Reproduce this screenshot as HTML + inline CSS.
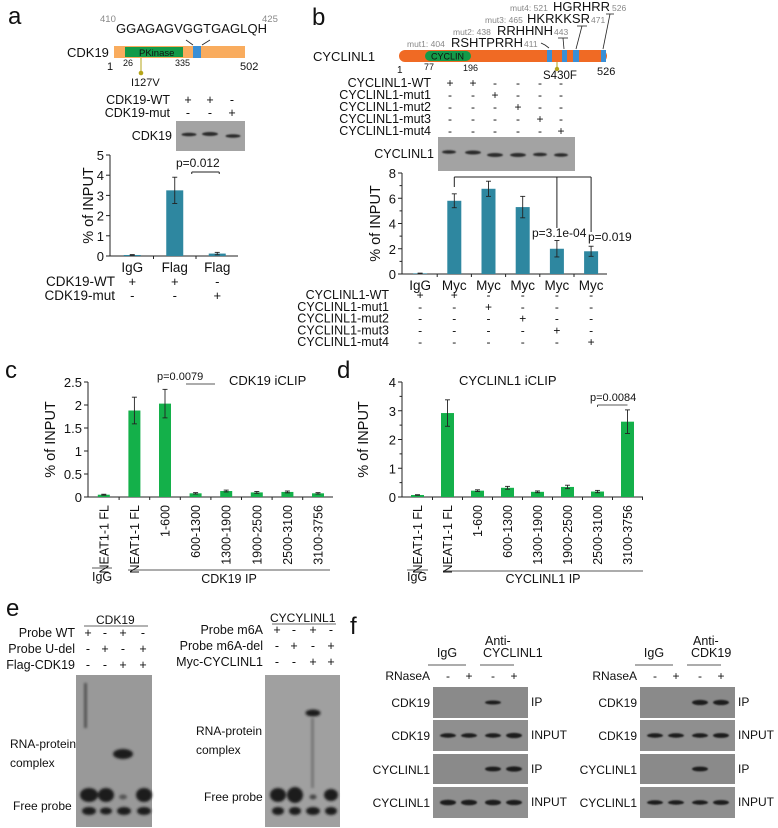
<!DOCTYPE html>
<html><head><meta charset="utf-8"><style>
html,body{margin:0;padding:0;background:#fff;}
svg{display:block;font-family:"Liberation Sans",sans-serif;}
text{fill:#111;}
.g{fill:#888;}
</style></head><body>
<svg id="fig" width="778" height="828" viewBox="0 0 778 828" xmlns="http://www.w3.org/2000/svg">
<defs>
<filter id="blur" x="-20%" y="-50%" width="140%" height="200%"><feGaussianBlur stdDeviation="0.8"/></filter>
<filter id="blur2" x="-20%" y="-50%" width="140%" height="200%"><feGaussianBlur stdDeviation="1.3"/></filter>
</defs>

<text x="8" y="24" font-size="24">a</text>
<text x="312" y="25" font-size="24">b</text>
<text x="5" y="378" font-size="24">c</text>
<text x="337" y="378" font-size="24">d</text>
<text x="6" y="616" font-size="24">e</text>
<text x="350" y="634" font-size="24">f</text>

<g>
<text class="g" x="100" y="22" font-size="9.5">410</text>
<text x="116" y="33" font-size="13" textLength="151">GGAGAGVGGTGAGLQH</text>
<text class="g" x="262" y="22" font-size="9.5">425</text>
<line x1="186" y1="40" x2="193" y2="45" stroke="#222" stroke-width="0.8"/>
<line x1="210" y1="40" x2="202" y2="45" stroke="#222" stroke-width="0.8"/>
<text x="67" y="57" font-size="13">CDK19</text>
<rect x="114" y="46" width="131" height="12" fill="#f9ac5e"/>
<rect x="125" y="47" width="58" height="10" fill="#139a48"/>
<text x="139" y="56" font-size="9.5">PKinase</text>
<rect x="193" y="46" width="8" height="12" fill="#3a8fd6"/>
<text x="107" y="70" font-size="11">1</text>
<text x="123" y="66" font-size="9">26</text>
<text x="175" y="66" font-size="9">335</text>
<text x="240" y="70" font-size="11">502</text>
<line x1="141" y1="58" x2="141" y2="73" stroke="#b5a51a" stroke-width="1"/>
<circle cx="141" cy="73" r="2.3" fill="#b5a51a"/>
<text x="131" y="86" font-size="11">I127V</text>
</g>
<g font-size="12.5">
<text x="170" y="104" text-anchor="end">CDK19-WT</text>
<text x="170" y="117" text-anchor="end">CDK19-mut</text>
<text x="188" y="104" text-anchor="middle">+</text><text x="210" y="104" text-anchor="middle">+</text><text x="232" y="104" text-anchor="middle">-</text>
<text x="188" y="117" text-anchor="middle">-</text><text x="210" y="117" text-anchor="middle">-</text><text x="232" y="117" text-anchor="middle">+</text>
</g>
<g>
<text x="172" y="140" text-anchor="end" font-size="12.5">CDK19</text>
<rect x="176" y="121" width="69" height="30" fill="#a3a3a3"/>
<g filter="url(#blur)" fill="#2a2a2a">
<ellipse cx="189" cy="134.5" rx="7.5" ry="1.8"/><ellipse cx="210" cy="134" rx="8" ry="2"/><ellipse cx="233" cy="136" rx="7.5" ry="1.8"/>
</g>
</g>

<g>
<text x="313" y="61" font-size="13">CYCLINL1</text>
<rect x="399" y="50" width="208" height="12" rx="6" fill="#f06a24"/>
<rect x="425" y="51" width="46" height="10" rx="5" fill="#139a48"/>
<text x="431" y="59.5" font-size="9">CYCLIN</text>
<rect x="547" y="50" width="5" height="12" fill="#3a8fd6"/>
<rect x="562" y="50" width="5" height="12" fill="#3a8fd6"/>
<rect x="573" y="50" width="6" height="12" fill="#3a8fd6"/>
<rect x="601" y="50" width="5" height="12" fill="#3a8fd6"/>
<text x="397" y="73" font-size="10">1</text>
<text x="424" y="70" font-size="9">77</text>
<text x="463" y="71" font-size="9">196</text>
<text x="543" y="79" font-size="11.5">S430F</text>
<text x="597" y="75" font-size="11">526</text>
<line x1="557" y1="62" x2="557" y2="69" stroke="#b5a51a"/>
<circle cx="557" cy="69" r="2.2" fill="#b5a51a"/>
<text class="g" x="407" y="47" font-size="8.5">mut1: 404</text><text x="451" y="47" font-size="13" textLength="72">RSHTPRRH</text><text class="g" x="524" y="47" font-size="8.5">411</text>
<text class="g" x="453" y="35" font-size="8.5">mut2: 438</text><text x="497" y="35" font-size="13" textLength="56">RRHHNH</text><text class="g" x="554" y="35" font-size="8.5">443</text>
<text class="g" x="485" y="23" font-size="8.5">mut3: 465</text><text x="527" y="23" font-size="13" textLength="63">HKRKKSR</text><text class="g" x="591" y="23" font-size="8.5">471</text>
<text class="g" x="510" y="11" font-size="8.5">mut4: 521</text><text x="553" y="11" font-size="13" textLength="57">HGRHRR</text><text class="g" x="612" y="11" font-size="8.5">526</text>
<g stroke="#222" stroke-width="0.8" fill="none">
<polyline points="541,43 545,45 549,48"/>
<line x1="558" y1="38" x2="568" y2="38"/><line x1="563" y1="38" x2="564" y2="49"/>
<line x1="577" y1="26" x2="587" y2="26"/><line x1="582" y1="26" x2="576" y2="49"/>
<line x1="606" y1="14" x2="614" y2="14"/><line x1="610" y1="14" x2="603" y2="49"/>
</g>
</g>
<g id="tableB"></g>
<g>
<text x="434" y="158" text-anchor="end" font-size="12.5">CYCLINL1</text>
<rect x="438" y="137" width="137" height="34" fill="#a3a3a3"/>
<g filter="url(#blur)" fill="#2a2a2a">
<ellipse cx="449" cy="152" rx="7" ry="1.8"/><ellipse cx="473" cy="152.5" rx="8" ry="2"/><ellipse cx="495" cy="155" rx="8" ry="2"/>
<ellipse cx="518" cy="155" rx="8" ry="2"/><ellipse cx="540" cy="154.5" rx="7" ry="1.8"/><ellipse cx="561" cy="155" rx="7" ry="1.8"/>
</g>
</g>

<g id="chartA"></g>
<g id="chartB"></g>
<g id="chartC"></g>
<g id="chartD"></g>

<g>
<text x="96" y="624" font-size="12">CDK19</text>
<line x1="84" y1="626" x2="148" y2="626" stroke="#333" stroke-width="0.8"/>
<g font-size="12.5">
<text x="75" y="637" text-anchor="end">Probe WT</text>
<text x="75" y="653" text-anchor="end">Probe U-del</text>
<text x="75" y="669" text-anchor="end">Flag-CDK19</text>
<text x="88" y="637" text-anchor="middle">+</text><text x="105" y="637" text-anchor="middle">-</text><text x="123" y="637" text-anchor="middle">+</text><text x="143" y="637" text-anchor="middle">-</text>
<text x="88" y="653" text-anchor="middle">-</text><text x="105" y="653" text-anchor="middle">+</text><text x="123" y="653" text-anchor="middle">-</text><text x="143" y="653" text-anchor="middle">+</text>
<text x="88" y="669" text-anchor="middle">-</text><text x="105" y="669" text-anchor="middle">-</text><text x="123" y="669" text-anchor="middle">+</text><text x="143" y="669" text-anchor="middle">+</text>
</g>
<rect x="76" y="675" width="76" height="152" fill="#999"/>
<g filter="url(#blur2)" fill="#1a1a1a">
<rect x="84" y="683" width="3" height="45" fill="#555"/>
<ellipse cx="123" cy="754" rx="10" ry="5"/>
<ellipse cx="89" cy="795" rx="9" ry="7"/><ellipse cx="106" cy="795" rx="8" ry="7"/><ellipse cx="123" cy="797" rx="4" ry="2.5" fill="#555"/><ellipse cx="144" cy="795" rx="8" ry="7"/>
<ellipse cx="89" cy="811" rx="7" ry="4"/><ellipse cx="106" cy="811" rx="6" ry="3.5"/><ellipse cx="124" cy="811" rx="7" ry="4"/><ellipse cx="144" cy="811" rx="7" ry="4"/>
</g>
<text x="10" y="748" font-size="12">RNA-protein</text>
<text x="10" y="767" font-size="12">complex</text>
<text x="13" y="810" font-size="12">Free probe</text>
</g>
<g>
<text x="270" y="622" font-size="12">CYCYLINL1</text>
<line x1="272" y1="624" x2="336" y2="624" stroke="#333" stroke-width="0.8"/>
<g font-size="12.5">
<text x="263" y="634" text-anchor="end">Probe m6A</text>
<text x="263" y="650" text-anchor="end">Probe m6A-del</text>
<text x="263" y="666" text-anchor="end">Myc-CYCLINL1</text>
<text x="277" y="634" text-anchor="middle">+</text><text x="294" y="634" text-anchor="middle">-</text><text x="313" y="634" text-anchor="middle">+</text><text x="331" y="634" text-anchor="middle">-</text>
<text x="277" y="650" text-anchor="middle">-</text><text x="294" y="650" text-anchor="middle">+</text><text x="313" y="650" text-anchor="middle">-</text><text x="331" y="650" text-anchor="middle">+</text>
<text x="277" y="666" text-anchor="middle">-</text><text x="294" y="666" text-anchor="middle">-</text><text x="313" y="666" text-anchor="middle">+</text><text x="331" y="666" text-anchor="middle">+</text>
</g>
<rect x="265" y="675" width="75" height="152" fill="#a0a0a0"/>
<g filter="url(#blur2)" fill="#1a1a1a">
<ellipse cx="313" cy="713" rx="7.5" ry="3.5"/>
<rect x="311" y="718" width="3" height="70" fill="#777"/>
<ellipse cx="278" cy="795" rx="8" ry="7"/><ellipse cx="295" cy="795" rx="8" ry="8"/><ellipse cx="313" cy="797" rx="3.5" ry="2.5" fill="#444"/><ellipse cx="331" cy="795" rx="7" ry="6"/>
<ellipse cx="278" cy="811" rx="6" ry="4"/><ellipse cx="295" cy="811" rx="6" ry="4"/><ellipse cx="313" cy="811" rx="7" ry="4"/><ellipse cx="331" cy="811" rx="6" ry="4"/>
</g>
<text x="196" y="735" font-size="12">RNA-protein</text>
<text x="196" y="754" font-size="12">complex</text>
<text x="204" y="801" font-size="12">Free probe</text>
</g>

<g id="coipL"></g>
<g id="coipR"></g>
</svg>
<script>
var NS = 'http://www.w3.org/2000/svg';
var catsA = ['IgG','Flag','Flag'];
var valsA = [0.05, 3.25, 0.12];
var errsA = [0.02, 0.65, 0.06];
var ticksA = [0,1,2,3,4,5];

var catsB = ['IgG','Myc','Myc','Myc','Myc','Myc'];
var valsB = [0.05, 5.8, 6.75, 5.3, 2.0, 1.8];
var errsB = [0.02, 0.55, 0.6, 0.85, 0.65, 0.4];
var ticksB = [0,2,4,6,8];

var catsC = ['NEAT1-1 FL','NEAT1-1 FL','1-600','600-1300','1300-1900','1900-2500','2500-3100','3100-3756'];
var valsC = [0.05, 1.88, 2.03, 0.08, 0.13, 0.1, 0.11, 0.08];
var errsC = [0.01, 0.29, 0.31, 0.015, 0.02, 0.02, 0.02, 0.015];
var ticksC = [0,0.5,1,1.5,2,2.5];

var catsD = ['NEAT1-1 FL','NEAT1-1 FL','1-600','600-1300','1300-1900','1900-2500','2500-3100','3100-3756'];
var valsD = [0.07, 2.92, 0.22, 0.32, 0.18, 0.35, 0.19, 2.62];
var errsD = [0.01, 0.46, 0.03, 0.05, 0.03, 0.06, 0.04, 0.41];
var ticksD = [0,1,2,3,4];

function mk(parent, tag, attrs, name) {
  var el = document.createElementNS(NS, tag);
  for (var k in attrs) el.setAttribute(k, attrs[k]);
  
  
  parent.appendChild(el);
  return el;
}
function txt(parent, x, y, s, size, anchor, name, extra) {
  var a = {x:x, y:y, 'font-size':size, 'text-anchor':anchor||'start'};
  if (extra) for (var k in extra) a[k] = extra[k];
  var t = mk(parent, 'text', a, name);
  t.textContent = s;
  return t;
}
function line(p, x1, y1, x2, y2, name, w) {
  return mk(p, 'line', {x1:x1, y1:y1, x2:x2, y2:y2, stroke:'#222', 'stroke-width':w||1}, name);
}

function barChart(g, o) {
  var y = function(v){ return o.y0 - v / o.vmax * (o.y0 - o.ytop); };
  var x = function(i){ return o.x0 + o.xstep * (i + 0.5); };
  line(g, o.axisX, o.ytop, o.axisX, o.y0, 'y-axis');
  line(g, o.axisX, o.y0, o.xend, o.y0, 'x-axis');
  o.ticks.forEach(function(t, i){
    line(g, o.axisX - 4, y(t), o.axisX, y(t), 'y-tick');
    txt(g, o.axisX - 6, y(t) + 5, String(t), o.tickFont, 'end', 'y-tick-label');
    if (o.minor && i < o.ticks.length - 1) {
      var m = (t + o.ticks[i+1]) / 2;
      line(g, o.axisX - 2.5, y(m), o.axisX, y(m), 'y-minor-tick');
    }
  });
  for (var i = 1; i <= o.cats.length; i++) {
    var xt = o.x0 + o.xstep * i;
    if (xt <= o.xend) line(g, xt, o.y0, xt, o.y0 + 3, 'x-tick');
  }
  o.vals.forEach(function(v, i){
    mk(g, 'rect', {x: x(i) - o.bw/2, y: y(v), width: o.bw, height: o.y0 - y(v), fill: o.color}, 'bar-' + i);
    var e = o.errs[i];
    line(g, x(i), y(v + e), x(i), y(Math.max(0, v - e)), 'error-bar', 0.9);
    line(g, x(i) - 2.5, y(v + e), x(i) + 2.5, y(v + e), 'error-cap', 0.9);
    line(g, x(i) - 2.5, y(Math.max(0, v - e)), x(i) + 2.5, y(Math.max(0, v - e)), 'error-cap', 0.9);
    if (o.rotLabels) {
      txt(g, 0, 0, o.cats[i], 12.5, 'end', 'x-label', {transform: 'translate(' + (x(i) + 4.5) + ',' + (o.y0 + 8) + ') rotate(-90)'});
    } else {
      txt(g, x(i), o.y0 + 16, o.cats[i], 13.5, 'middle', 'x-label');
    }
  });
  txt(g, 0, 0, '% of INPUT', 14.5, 'middle', 'y-axis-title', {transform: 'translate(' + o.ylabX + ',' + ((o.ytop + o.y0)/2) + ') rotate(-90)'});
  return {x:x, y:y};
}

var gA = document.getElementById('chartA');
var axA = barChart(gA, {cats:catsA, vals:valsA, errs:errsA, ticks:ticksA, vmax:5, y0:256, ytop:155, axisX:110, x0:111, xstep:42.5, xend:238, bw:17, color:'#2e87a0', tickFont:13, ylabX:93, minor:false});
line(gA, axA.x(1) + 17, 172, axA.x(2) + 2, 172, 'p-value-bracket');
line(gA, axA.x(1) + 17, 172, axA.x(1) + 17, 174, 'p-value-bracket');
line(gA, axA.x(2) + 2, 172, axA.x(2) + 2, 174, 'p-value-bracket');
txt(gA, 176, 167, 'p=0.012', 12, 'start', 'p-value-label');
var rowsA = [['CDK19-WT', ['+','+','-']], ['CDK19-mut', ['-','-','+']]];
rowsA.forEach(function(r, j){
  txt(gA, 115, 286 + j*14, r[0], 13.5, 'end', 'construct-row-label');
  r[1].forEach(function(s, i){ txt(gA, axA.x(i), 286 + j*14, s, 13, 'middle', 'construct-sign'); });
});

var gB = document.getElementById('chartB');
var axB = barChart(gB, {cats:catsB, vals:valsB, errs:errsB, ticks:ticksB, vmax:8, y0:274, ytop:173, axisX:402, x0:403, xstep:34.2, xend:607, bw:14, color:'#2e87a0', tickFont:13, ylabX:380, minor:true});
line(gB, axB.x(1), 177, axB.x(5), 177, 'significance-bracket');
line(gB, axB.x(1), 177, axB.x(1), 187, 'significance-bracket');
line(gB, axB.x(4), 177, axB.x(4), 228, 'significance-bracket');
line(gB, axB.x(5), 177, axB.x(5), 232, 'significance-bracket');
txt(gB, 532, 237, 'p=3.1e-04', 12, 'start', 'p-value-label');
txt(gB, 588, 241, 'p=0.019', 12, 'start', 'p-value-label');
var names = ['CYCLINL1-WT','CYCLINL1-mut1','CYCLINL1-mut2','CYCLINL1-mut3','CYCLINL1-mut4'];
names.forEach(function(n, j){
  txt(gB, 389, 299 + j*11.8, n, 12.5, 'end', 'construct-row-label');
  catsB.forEach(function(c, i){
    var s = (j === 0 ? (i === 0 || i === 1) : i === j + 1) ? '+' : '-';
    txt(gB, axB.x(i), 299 + j*11.8, s, 12, 'middle', 'construct-sign');
  });
});
var tB = document.getElementById('tableB');
var colsB = [450, 473, 495, 518, 540, 561];
names.forEach(function(n, j){
  txt(tB, 431, 87 + j*12, n, 12.5, 'end', 'construct-row-label');
  colsB.forEach(function(cx, i){
    var s = (j === 0 ? (i === 0 || i === 1) : i === j + 1) ? '+' : '-';
    txt(tB, cx, 87 + j*12, s, 12, 'middle', 'construct-sign');
  });
});

var gC = document.getElementById('chartC');
var axC = barChart(gC, {cats:catsC, vals:valsC, errs:errsC, ticks:ticksC, vmax:2.5, y0:497, ytop:382, axisX:88, x0:88.5, xstep:30.6, xend:333, bw:12, color:'#14b04a', tickFont:13, ylabX:55, minor:false, rotLabels:true});
line(gC, 186, 384, 215, 384, 'p-value-bracket', 0.8);
txt(gC, 157, 380, 'p=0.0079', 11, 'start', 'p-value-label');
txt(gC, 229, 385, 'CDK19 iCLIP', 13, 'start', 'chart-title');
line(gC, 92, 568, 112, 568, 'group-line', 0.8);
txt(gC, 92, 581, 'IgG', 12.5, 'start', 'group-label');
line(gC, 128, 570, 330, 570, 'group-line', 0.8);
txt(gC, 229, 583, 'CDK19 IP', 12.5, 'middle', 'group-label');

var gD = document.getElementById('chartD');
var axD = barChart(gD, {cats:catsD, vals:valsD, errs:errsD, ticks:ticksD, vmax:4, y0:497, ytop:382, axisX:402, x0:402.5, xstep:30, xend:643, bw:13, color:'#14b04a', tickFont:13, ylabX:368, minor:true, rotLabels:true});
line(gD, axD.x(6), 405, axD.x(7), 405, 'p-value-bracket', 0.8);
line(gD, axD.x(6), 405, axD.x(6), 407, 'p-value-bracket', 0.8);
txt(gD, 590, 401, 'p=0.0084', 11, 'start', 'p-value-label');
txt(gD, 459, 385, 'CYCLINL1 iCLIP', 13, 'start', 'chart-title');
line(gD, 407, 570, 428, 570, 'group-line', 0.8);
txt(gD, 407, 581, 'IgG', 12.5, 'start', 'group-label');
line(gD, 443, 571, 643, 571, 'group-line', 0.8);
txt(gD, 543, 583, 'CYCLINL1 IP', 12.5, 'middle', 'group-label');

var panelsY = [687, 720, 754, 787];
var panelsH = [31, 31, 30, 31];
function coip(g, o) {
  txt(g, o.lx + 14, 657, 'IgG', 12.5, 'middle', 'igg-header');
  txt(g, o.ax, 645, 'Anti-', 12.5, 'start', 'antibody-header');
  txt(g, o.ax - 2, 657, o.ab, 12.5, 'start', 'antibody-header');
  line(g, o.lx - 5, 665, o.lx + 33, 665, 'group-line', 0.8);
  line(g, o.lx + 47, 665, o.lx + 81, 665, 'group-line', 0.8);
  txt(g, o.lx - 3, 680, 'RNaseA', 12, 'end', 'rnasea-label');
  var signs = ['-','+','-','+'];
  o.cols.forEach(function(c, i){ txt(g, c, 680, signs[i], 12, 'middle', 'rnasea-sign'); });
  var labels = ['CDK19','CDK19','CYCLINL1','CYCLINL1'];
  var right = ['IP','INPUT','IP','INPUT'];
  panelsY.forEach(function(py, p){
    mk(g, 'rect', {x:o.lx, y:py, width:95, height:panelsH[p], fill: p % 2 ? '#8f8f8f' : '#8a8a8a'}, 'blot-panel');
    txt(g, o.lx - 3, py + 20, labels[p], 12, 'end', 'blot-row-label');
    txt(g, o.lx + 98, py + 19, right[p], 12, 'start', 'blot-fraction-label');
    o.bands[p].forEach(function(b, i){
      if (b) mk(g, 'ellipse', {cx:o.cols[i], cy:py + panelsH[p]/2, rx:8, ry: b * 2, fill:'#1c1c1c', filter:'url(#blur)'}, 'blot-band');
    });
  });
}
coip(document.getElementById('coipL'), {lx:433, ax:485, ab:'CYCLINL1', cols:[448,469,493,514], bands:[[0,0,1,0],[1.1,1.1,1.1,1.3],[0,0,1.2,1.3],[1.4,1.4,1.4,1.3]]});
coip(document.getElementById('coipR'), {lx:640, ax:693, ab:'CDK19', cols:[655,676,700,721], bands:[[0,0,1.3,1.3],[1.1,1.1,1.1,1.2],[0,0,1.2,0],[1.1,1.1,1.1,1.2]]});
</script>
</body></html>
